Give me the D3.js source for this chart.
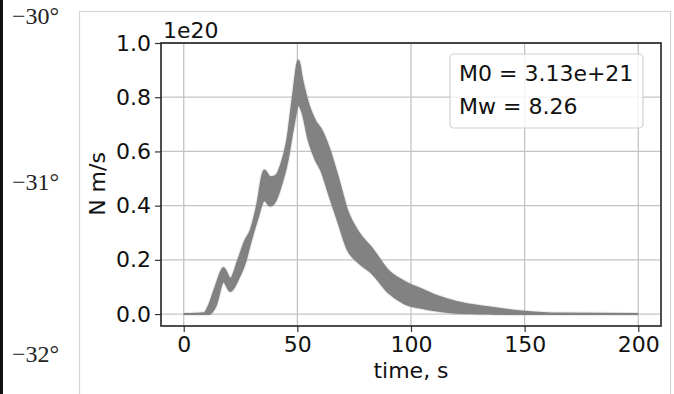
<!DOCTYPE html>
<html>
<head>
<meta charset="utf-8">
<script src="https://cdn.jsdelivr.net/npm/d3@7"></script>
<style>
  body { margin: 0; background: #fff; }
  text { font-family: "DejaVu Sans", sans-serif; }
</style>
</head>
<body>
<div id="container"></div>
<script>
/* CONSTANTS AND GLOBALS */
const width = 674;
const height = 394;
const margin = {top: 43, right: 13, bottom: 68, left: 161};

/* DATA */
// moment-rate ensemble: envelope of all traces, in units of 1e20 N m/s
const time  = [0, 9, 11, 14, 17.5, 20.5, 24, 27, 29.5, 32, 35.5, 38, 40.5, 43, 45.5, 48, 50.5, 52, 55, 58, 60.5, 64, 68, 72, 77, 83, 90, 97, 105, 112, 120, 134, 150, 165, 200];
const upper = [0, 0.003, 0.03, 0.10, 0.17, 0.13, 0.20, 0.27, 0.31, 0.39, 0.53, 0.505, 0.51, 0.555, 0.64, 0.80, 0.935, 0.87, 0.77, 0.71, 0.68, 0.61, 0.50, 0.38, 0.30, 0.24, 0.16, 0.12, 0.09, 0.065, 0.045, 0.025, 0.009, 0.002, 0];
const lower = [0, 0, 0, 0.03, 0.12, 0.085, 0.13, 0.19, 0.27, 0.34, 0.42, 0.40, 0.42, 0.48, 0.56, 0.68, 0.77, 0.75, 0.64, 0.57, 0.53, 0.44, 0.34, 0.24, 0.19, 0.15, 0.08, 0.04, 0.022, 0.012, 0.005, 0.002, 0, 0, 0];

const xTicks = [0, 50, 100, 150, 200];
const yTicks = [0, 0.2, 0.4, 0.6, 0.8, 1.0];
const latLabels = ["\u221230\u00b0", "\u221231\u00b0", "\u221232\u00b0"];
const latY = [24, 190, 362];
const legendLines = ["M0 = 3.13e+21", "Mw = 8.26"];

const band = time.map((t, i) => ({t: t, lo: lower[i], hi: upper[i]}));

/* SCALES */
const xScale = d3.scaleLinear()
  .domain([-10, 210])
  .range([margin.left, width - margin.right]);

const yScale = d3.scaleLinear()
  .domain([-0.044, 1.0])
  .range([height - margin.bottom, margin.top]);

/* HTML ELEMENTS */
const svg = d3.select("#container")
  .append("svg")
    .attr("width", width)
    .attr("height", height);

// map background bits behind the inset
svg.append("rect")
  .attr("x", 0).attr("y", 0)
  .attr("width", 3).attr("height", height)
  .attr("fill", "#111");

svg.selectAll("text.lat")
  .data(latLabels)
  .join("text")
    .attr("class", "lat")
    .attr("x", 12)
    .attr("y", (d, i) => latY[i])
    .style("font-family", "'Liberation Serif', serif")
    .style("font-size", "24px")
    .attr("fill", "#222")
    .text(d => d);

// inset box
svg.append("rect")
  .attr("x", 79.5).attr("y", 11.5)
  .attr("width", 591).attr("height", 400)
  .attr("fill", "#fff")
  .attr("stroke", "#d4d4d4")
  .attr("stroke-width", 1.2);

// grid
const plotH = height - margin.bottom - margin.top;
const plotW = width - margin.right - margin.left;

svg.append("g")
  .selectAll("line.gx")
  .data(xTicks)
  .join("line")
    .attr("x1", d => xScale(d)).attr("x2", d => xScale(d))
    .attr("y1", margin.top).attr("y2", height - margin.bottom)
    .attr("stroke", "#c4c4c4").attr("stroke-width", 1.3);

svg.append("g")
  .selectAll("line.gy")
  .data(yTicks)
  .join("line")
    .attr("x1", margin.left).attr("x2", width - margin.right)
    .attr("y1", d => yScale(d)).attr("y2", d => yScale(d))
    .attr("stroke", "#c4c4c4").attr("stroke-width", 1.3);

// ensemble band
const area = d3.area()
  .x(d => xScale(d.t))
  .y0(d => yScale(d.lo))
  .y1(d => yScale(d.hi))
  .curve(d3.curveMonotoneX);

svg.append("path")
  .datum(band)
  .attr("d", area)
  .attr("fill", "none")
  .attr("stroke", "#8a8a8a")
  .attr("stroke-opacity", 0.18)
  .attr("stroke-width", 4);

svg.append("path")
  .datum(band)
  .attr("d", area)
  .attr("fill", "#828282")
  .attr("stroke", "#828282")
  .attr("stroke-width", 2);

// axes
const xAxis = svg.append("g")
  .attr("transform", "translate(0," + (height - margin.bottom) + ")")
  .call(d3.axisBottom(xScale).tickValues(xTicks).tickSize(6).tickPadding(4).tickFormat(d3.format("d")));

const yAxis = svg.append("g")
  .attr("transform", "translate(" + margin.left + ",0)")
  .call(d3.axisLeft(yScale).tickValues(yTicks).tickSize(6).tickPadding(4).tickFormat(d3.format(".1f")));

[xAxis, yAxis].forEach(g => {
  g.select(".domain").remove();
  g.selectAll(".tick line").attr("stroke", "#333").attr("stroke-width", 1.2);
  g.selectAll("text")
    .style("font-family", "'DejaVu Sans', sans-serif")
    .style("font-size", "22px")
    .attr("fill", "#111");
});

// frame
svg.append("rect")
  .attr("x", margin.left).attr("y", margin.top)
  .attr("width", plotW).attr("height", plotH)
  .attr("fill", "none")
  .attr("stroke", "#222")
  .attr("stroke-width", 1.6);

// offset text and axis labels
svg.append("text")
  .attr("x", margin.left + 2).attr("y", 38)
  .style("font-size", "22px").attr("fill", "#111")
  .text("1e20");

svg.append("text")
  .attr("x", xScale(100)).attr("y", 378)
  .attr("text-anchor", "middle")
  .style("font-size", "22px").attr("fill", "#111")
  .text("time, s");

svg.append("text")
  .attr("transform", "translate(105," + yScale(0.48) + ")rotate(-90)")
  .attr("text-anchor", "middle")
  .style("font-size", "22px").attr("fill", "#111")
  .text("N m/s");

// legend
svg.append("rect")
  .attr("x", 450).attr("y", 54)
  .attr("width", 193).attr("height", 74)
  .attr("rx", 4)
  .attr("fill", "#fff").attr("fill-opacity", 0.8)
  .attr("stroke", "#d0d0d0").attr("stroke-width", 1.2);

svg.selectAll("text.leg")
  .data(legendLines)
  .join("text")
    .attr("class", "leg")
    .attr("x", 459)
    .attr("y", (d, i) => 81 + i * 33)
    .style("font-size", "22px").attr("fill", "#111")
    .text(d => d);
</script>
</body>
</html>
